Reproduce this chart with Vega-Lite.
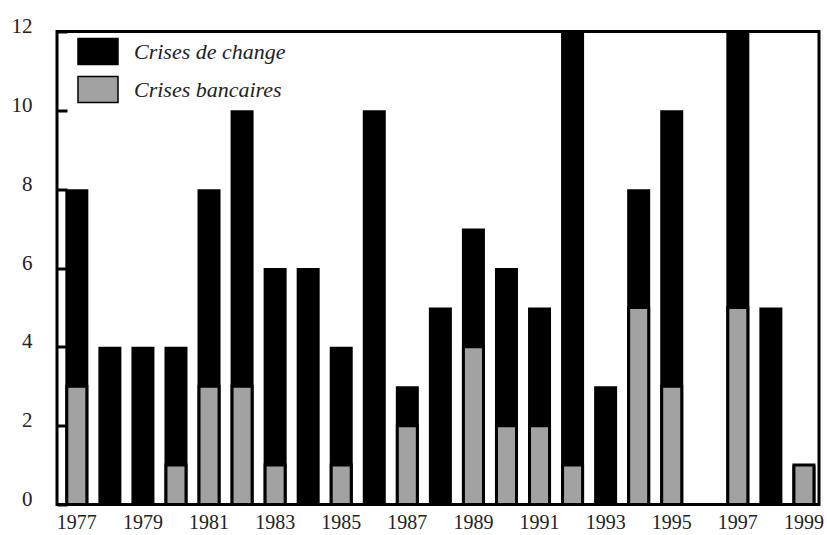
{
  "$schema": "https://vega.github.io/schema/vega-lite/v6.json",
  "width": 762,
  "height": 473,
  "autosize": "none",
  "padding": {"left": 57, "top": 31.5, "right": 8, "bottom": 30.5},
  "background": "white",
  "config": {
    "view": {"stroke": "#000000", "strokeWidth": 3},
    "font": "Liberation Serif"
  },
  "data": {
    "values": [
      {"annee": 1977, "serie": "Crises de change", "n": 8},
      {"annee": 1978, "serie": "Crises de change", "n": 4},
      {"annee": 1979, "serie": "Crises de change", "n": 4},
      {"annee": 1980, "serie": "Crises de change", "n": 4},
      {"annee": 1981, "serie": "Crises de change", "n": 8},
      {"annee": 1982, "serie": "Crises de change", "n": 10},
      {"annee": 1983, "serie": "Crises de change", "n": 6},
      {"annee": 1984, "serie": "Crises de change", "n": 6},
      {"annee": 1985, "serie": "Crises de change", "n": 4},
      {"annee": 1986, "serie": "Crises de change", "n": 10},
      {"annee": 1987, "serie": "Crises de change", "n": 3},
      {"annee": 1988, "serie": "Crises de change", "n": 5},
      {"annee": 1989, "serie": "Crises de change", "n": 7},
      {"annee": 1990, "serie": "Crises de change", "n": 6},
      {"annee": 1991, "serie": "Crises de change", "n": 5},
      {"annee": 1992, "serie": "Crises de change", "n": 12},
      {"annee": 1993, "serie": "Crises de change", "n": 3},
      {"annee": 1994, "serie": "Crises de change", "n": 8},
      {"annee": 1995, "serie": "Crises de change", "n": 10},
      {"annee": 1996, "serie": "Crises de change", "n": 0},
      {"annee": 1997, "serie": "Crises de change", "n": 12},
      {"annee": 1998, "serie": "Crises de change", "n": 5},
      {"annee": 1999, "serie": "Crises de change", "n": 1},
      {"annee": 1977, "serie": "Crises bancaires", "n": 3},
      {"annee": 1978, "serie": "Crises bancaires", "n": 0},
      {"annee": 1979, "serie": "Crises bancaires", "n": 0},
      {"annee": 1980, "serie": "Crises bancaires", "n": 1},
      {"annee": 1981, "serie": "Crises bancaires", "n": 3},
      {"annee": 1982, "serie": "Crises bancaires", "n": 3},
      {"annee": 1983, "serie": "Crises bancaires", "n": 1},
      {"annee": 1984, "serie": "Crises bancaires", "n": 0},
      {"annee": 1985, "serie": "Crises bancaires", "n": 1},
      {"annee": 1986, "serie": "Crises bancaires", "n": 0},
      {"annee": 1987, "serie": "Crises bancaires", "n": 2},
      {"annee": 1988, "serie": "Crises bancaires", "n": 0},
      {"annee": 1989, "serie": "Crises bancaires", "n": 4},
      {"annee": 1990, "serie": "Crises bancaires", "n": 2},
      {"annee": 1991, "serie": "Crises bancaires", "n": 2},
      {"annee": 1992, "serie": "Crises bancaires", "n": 1},
      {"annee": 1993, "serie": "Crises bancaires", "n": 0},
      {"annee": 1994, "serie": "Crises bancaires", "n": 5},
      {"annee": 1995, "serie": "Crises bancaires", "n": 3},
      {"annee": 1996, "serie": "Crises bancaires", "n": 0},
      {"annee": 1997, "serie": "Crises bancaires", "n": 5},
      {"annee": 1998, "serie": "Crises bancaires", "n": 0},
      {"annee": 1999, "serie": "Crises bancaires", "n": 1}
    ]
  },
  "encoding": {
    "x": {
      "field": "annee",
      "type": "ordinal",
      "scale": {"paddingInner": 0.304, "paddingOuter": 0.18, "align": 0.7},
      "axis": {
        "title": null,
        "values": [1977, 1979, 1981, 1983, 1985, 1987, 1989, 1991, 1993, 1995, 1997, 1999],
        "ticks": false,
        "domain": false,
        "labelAngle": 0,
        "labelFont": "Liberation Serif",
        "labelFontSize": 20,
        "labelColor": "#222222",
        "labelPadding": 8
      }
    },
    "y": {
      "field": "n",
      "type": "quantitative",
      "scale": {"domain": [0, 12], "nice": false},
      "axis": {
        "title": null,
        "values": [0, 2, 4, 6, 8, 10, 12],
        "grid": false,
        "domain": false,
        "tickSize": -10,
        "tickWidth": 3,
        "tickColor": "#000000",
        "labelPadding": 35,
        "labelOffset": -5,
        "labelFont": "Liberation Serif",
        "labelFontSize": 21,
        "labelColor": "#222222"
      }
    }
  },
  "layer": [
    {
      "transform": [{"filter": "datum.serie === 'Crises de change'"}],
      "mark": {"type": "bar", "stroke": null},
      "encoding": {
        "color": {
          "field": "serie",
          "type": "nominal",
          "scale": {"domain": ["Crises de change", "Crises bancaires"], "range": ["#000000", "#a2a2a2"]},
          "legend": {
            "title": null,
            "orient": "none",
            "legendX": 20,
            "legendY": 2,
            "padding": 0,
            "symbolType": "M-1,-0.65H1V0.65H-1Z",
            "symbolSize": 1600,
            "symbolStrokeColor": "#000000",
            "symbolStrokeWidth": 1.5,
            "symbolOpacity": 1,
            "labelFont": "Liberation Serif",
            "labelFontStyle": "italic",
            "labelFontSize": 22,
            "labelColor": "#222222",
            "labelOffset": 15,
            "clipHeight": 36,
            "rowPadding": 2
          }
        }
      }
    },
    {
      "transform": [{"filter": "datum.serie === 'Crises bancaires' && datum.n > 0"}],
      "mark": {"type": "bar", "width": {"band": 0.87}, "stroke": "#000000", "strokeWidth": 3},
      "encoding": {
        "color": {"field": "serie", "type": "nominal"}
      }
    }
  ]
}
